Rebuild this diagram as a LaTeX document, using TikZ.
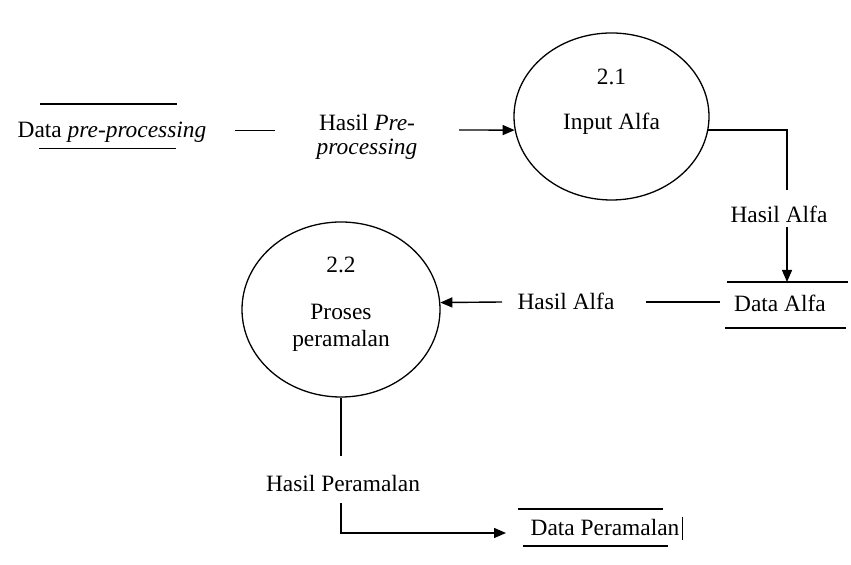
\documentclass[tikz,border=0pt]{standalone}
\usepackage{fontspec}
\setmainfont{Liberation Serif}
\usetikzlibrary{shapes.geometric,arrows.meta}
\begin{document}
\begin{tikzpicture}[x=0.5pt,y=-0.5pt,
  every node/.style={font=\fontsize{11.7}{13}\selectfont, inner sep=0pt},
  proc/.style={draw, ellipse, line width=0.65pt, minimum width=97.5pt, minimum height=83.5pt},
  flow/.style={line width=0.7pt},
  arr/.style={line width=0.7pt, -{Triangle[length=6pt,width=5pt]}},
  storeline/.style={line width=0.7pt},
  txt/.style={anchor=base}]
\useasboundingbox (0,0) rectangle (851,565);
\fill[white] (0,0) rectangle (851,565);

% processes
\node[proc] (p1) at (611.5,116.5) {};
\node[txt] (p1n) at (611.5,85) {2.1};
\node[txt] (p1t) at (611.5,130) {Input Alfa};
\node[proc, minimum width=99pt, minimum height=87.5pt] (p2) at (341,309.5) {};
\node[txt] (p2n) at (341,273) {2.2};
\node[txt] (p2a) at (341,320) {Proses};
\node[txt] (p2b) at (341,347) {peramalan};

% data stores
\node[txt] (s1) at (112,138) {Data \textit{pre-processing}};
\draw[storeline] (40,104) -- (177,104);
\draw[storeline] (39,148.5) -- (176,148.5);

\node[txt] (s2) at (780,312) {Data Alfa};
\draw[storeline] (727,282) -- (848,282);
\draw[storeline] (725,328) -- (846,328);

\node[txt] (s3) at (605,536) {Data Peramalan};
\draw[storeline] (518,509) -- (663,509);
\draw[storeline] (523,546) -- (668,546);
\draw[line width=0.4pt] (682,517) -- (682,540);

% flow 1
\node[txt] (l1a) at (367,131) {Hasil \textit{Pre-}};
\node[txt] (l1b) at (367,155) {\textit{processing}};
\coordinate (c1a) at (235,130.5);
\coordinate (c1b) at (275,130.5);
\draw[flow] (c1a) -- (c1b);
\coordinate (c2a) at (459,130);
\draw[arr] (c2a) -- (p1.188);

% flow 2
\coordinate (c3) at (787,190);
\draw[flow] (p1.352) -| (c3);
\node[txt] (l2) at (779,222.7) {Hasil Alfa};
\coordinate (c4) at (787,227);
\coordinate (c4b) at (787,282);
\draw[arr] (c4) -- (c4b);

% flow 3
\coordinate (c5a) at (720,302);
\coordinate (c5b) at (646,302);
\draw[flow] (c5a) -- (c5b);
\node[txt] (l3) at (566,310) {Hasil Alfa};
\coordinate (c5c) at (502,302);
\draw[arr] (c5c) -- (p2.4.4);

% flow 4
\coordinate (c6) at (341,456);
\draw[flow] (p2.south) -- (c6);
\node[txt] (l4) at (343,492) {Hasil Peramalan};
\coordinate (c7) at (341,503);
\coordinate (c8) at (506,533);
\draw[arr] (c7) |- (c8);
\end{tikzpicture}
\end{document}
